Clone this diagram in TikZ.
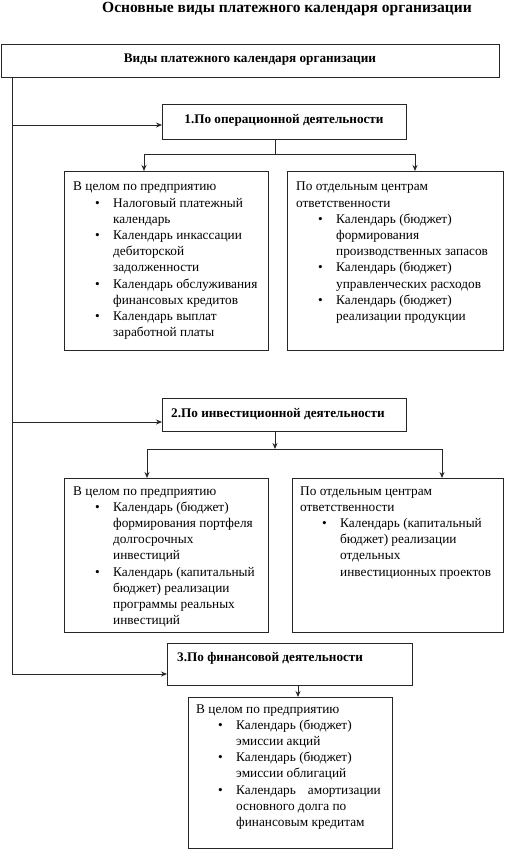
\documentclass[tikz,border=0pt]{standalone}
\usepackage{fontspec}
\setmainfont{Liberation Serif}
\usetikzlibrary{arrows.meta}
\newcommand{\Bl}[1]{\hspace*{22pt}\makebox[18pt][l]{\textbullet}#1}
\newcommand{\Cl}[1]{\hspace*{40pt}#1}
\begin{document}
\begin{tikzpicture}[x=1pt,y=-1pt,
  box/.style={draw=black!85,line width=0.8pt,anchor=north west,inner sep=0pt,outer sep=0pt},
  txt/.style={anchor=base west,inner sep=0pt,font=\fontsize{13.3}{16.2}\selectfont},
  head/.style={anchor=base,inner sep=0pt,font=\bfseries\fontsize{13.2}{16}\selectfont},
  headl/.style={anchor=base west,inner sep=0pt,font=\bfseries\fontsize{13.2}{16}\selectfont},
  ln/.style={draw=black!85,line width=0.8pt},
  arr/.style={ln,-{Stealth[length=6pt,width=5pt]}}]
\useasboundingbox (0,0) rectangle (507,850);
% title
\node[anchor=base,inner sep=0pt,font=\bfseries\fontsize{15.5}{18}\selectfont] (title) at (287,13) {Основные виды платежного календаря организации};
% boxes
\node[box,minimum width=498pt,minimum height=33pt] (top) at (1,44) {};
\node[head] (toptext) at (250,63) {Виды платежного календаря организации};
\node[box,minimum width=244pt,minimum height=35pt] (b1) at (162,104) {};
\node[head] (b1t) at (284,124) {1.По операционной деятельности};
\node[box,minimum width=204pt,minimum height=179pt] (l1) at (64,171) {};
\node[box,minimum width=216pt,minimum height=179pt] (r1) at (287,171) {};
\node[box,minimum width=244pt,minimum height=33pt] (b2) at (162,398) {};
\node[headl] (b2t) at (171,417) {2.По инвестиционной деятельности};
\node[box,minimum width=204pt,minimum height=154pt] (l2) at (64,478) {};
\node[box,minimum width=211pt,minimum height=154pt] (r2) at (292,478) {};
\node[box,minimum width=245pt,minimum height=42pt] (b3) at (167,643) {};
\node[headl] (b3t) at (177,661) {3.По финансовой деятельности};
\node[box,minimum width=204pt,minimum height=151pt] (l3) at (188,697) {};
% box texts
\node[txt] (l1t) at (73,191) {\parbox[t]{195pt}{В целом по предприятию\\
\Bl{Налоговый платежный}\\
\Cl{календарь}\\
\Bl{Календарь инкассации}\\
\Cl{дебиторской}\\
\Cl{задолженности}\\
\Bl{Календарь обслуживания}\\
\Cl{финансовых кредитов}\\
\Bl{Календарь выплат}\\
\Cl{заработной платы}}};
\node[txt] (r1t) at (296,191) {\parbox[t]{205pt}{По отдельным центрам\\
ответственности\\
\Bl{Календарь (бюджет)}\\
\Cl{формирования}\\
\Cl{производственных запасов}\\
\Bl{Календарь (бюджет)}\\
\Cl{управленческих расходов}\\
\Bl{Календарь (бюджет)}\\
\Cl{реализации продукции}}};
\node[txt] (l2t) at (73,495) {\parbox[t]{195pt}{В целом по предприятию\\
\Bl{Календарь (бюджет)}\\
\Cl{формирования портфеля}\\
\Cl{долгосрочных}\\
\Cl{инвестиций}\\
\Bl{Календарь (капитальный}\\
\Cl{бюджет) реализации}\\
\Cl{программы реальных}\\
\Cl{инвестиций}}};
\node[txt] (r2t) at (300,495) {\parbox[t]{200pt}{По отдельным центрам\\
ответственности\\
\Bl{Календарь (капитальный}\\
\Cl{бюджет) реализации}\\
\Cl{отдельных}\\
\Cl{инвестиционных проектов}}};
\node[txt] (l3t) at (196,713) {\parbox[t]{195pt}{В целом по предприятию\\
\Bl{Календарь (бюджет)}\\
\Cl{эмиссии акций}\\
\Bl{Календарь (бюджет)}\\
\Cl{эмиссии облигаций}\\
\Bl{Календарь\hspace{12pt}амортизации}\\
\Cl{основного долга по}\\
\Cl{финансовым кредитам}}};
% trunk
\coordinate (tk0) at (12,77);
\coordinate (tk1) at (12,125);
\coordinate (tk2) at (12,422);
\coordinate (tk3) at (12,674);
\draw[ln] (tk0) -- (tk3);
\draw[arr] (tk1) -- (tk1 -| b1.west);
\draw[arr] (tk2) -- (tk2 -| b2.west);
\draw[arr] (tk3) -- (tk3 -| b3.west);
% branch 1
\coordinate (s1a) at (275,139);
\coordinate (s1b) at (275,154);
\coordinate (s1l) at (144,154);
\coordinate (s1r) at (415,154);
\draw[ln] (s1a) -- (s1b);
\draw[ln] (s1l) -- (s1r);
\draw[arr] (s1l) -- (s1l |- l1.north);
\draw[arr] (s1r) -- (s1r |- r1.north);
% branch 2
\coordinate (s2a) at (275,431);
\coordinate (s2b) at (275,449);
\coordinate (s2l) at (147,449);
\coordinate (s2r) at (442,449);
\draw[arr] (s2a) -- (s2b);
\draw[ln] (s2l) -- (s2r);
\draw[arr] (s2l) -- (s2l |- l2.north);
\draw[arr] (s2r) -- (s2r |- r2.north);
% branch 3
\coordinate (s3a) at (298,685);
\draw[arr] (s3a) -- (s3a |- l3.north);
\end{tikzpicture}
\end{document}
